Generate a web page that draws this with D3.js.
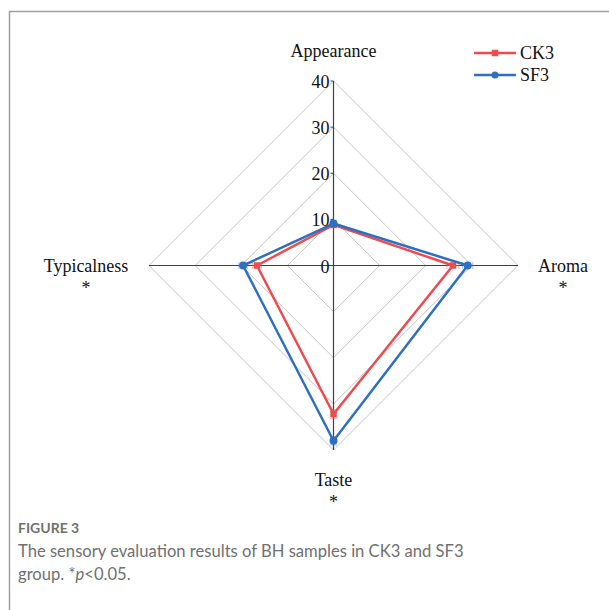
<!DOCTYPE html>
<html><head><meta charset="utf-8">
<script src="https://cdn.jsdelivr.net/npm/d3@7"></script>
<style>body{margin:0;background:#fff}svg{display:block}</style>
</head><body>
<svg id="c" width="609" height="610"></svg>
<script>
const axesNames = ["Appearance", "Aroma", "Taste", "Typicalness"];
const axisStars = ["", "*", "*", "*"];
const ticks = [0, 10, 20, 30, 40];
const seriesNames = ["CK3", "SF3"];
const ck3 = [8.8, 25.9, 32.2, 16.6];
const sf3 = [9.1, 29.1, 38.0, 19.6];
const ck3Err = [0.6, 1.3, 1.0, 1.0];
const sf3Err = [0.6, 1.1, 0.9, 0.9];
const colors = ["#ef4a4f", "#2e6fc0"];

const svg = d3.select("#c");
const cx = 333.5, cy = 265.5, R = 184.5;
const r = d3.scaleLinear().domain([0, 40]).range([0, R]);
const ang = d3.scaleBand().domain(axesNames).range([0, 2 * Math.PI]).paddingInner(0).paddingOuter(0);
const a = n => ang(n) - Math.PI / 2;
const px = (n, v) => cx + r(v) * Math.cos(a(n));
const py = (n, v) => cy + r(v) * Math.sin(a(n));
const FS = 18;

// frame
svg.append("path").attr("d", "M9.5,610 L9.5,11.5 L609,11.5").attr("fill", "none").attr("stroke", "#a0a0a0").attr("stroke-width", 1.5);

const g = svg.append("g");
// grid diamonds
ticks.slice(1).forEach(t => {
  g.append("path")
    .attr("d", d3.line()(axesNames.map(n => [px(n, t), py(n, t)])) + "Z")
    .attr("fill", "none").attr("stroke", "#c3c3c3").attr("stroke-width", 1);
});
// axes
axesNames.forEach(n => {
  g.append("line").attr("x1", cx).attr("y1", cy).attr("x2", px(n, 40)).attr("y2", py(n, 40))
    .attr("stroke", "#404040").attr("stroke-width", 1.2);
});
// tick marks + labels on vertical axis
ticks.forEach(t => {
  g.append("line").attr("x1", cx - 3).attr("x2", cx).attr("y1", cy - r(t)).attr("y2", cy - r(t))
    .attr("stroke", "#404040").attr("stroke-width", 1);
  g.append("text").attr("x", cx - 4).attr("y", cy - r(t) + 7).attr("text-anchor", "end")
    .attr("font-family", "Liberation Serif").attr("font-size", FS).attr("fill", "#111").text(t);
});

// series
const data = [ck3, sf3], errs = [ck3Err, sf3Err];
data.forEach((vals, i) => {
  const pts = axesNames.map((n, j) => [px(n, vals[j]), py(n, vals[j])]);
  // error bars
  axesNames.forEach((n, j) => {
    const v = vals[j], e = errs[i][j];
    const x1 = px(n, v - e), y1 = py(n, v - e), x2 = px(n, v + e), y2 = py(n, v + e);
    const perpX = -Math.sin(a(n)) * 3.5, perpY = Math.cos(a(n)) * 3.5;
    const eg = g.append("g").attr("stroke", colors[i]).attr("stroke-opacity", 0.45).attr("stroke-width", 1);
    eg.append("line").attr("x1", x1).attr("y1", y1).attr("x2", x2).attr("y2", y2);
    [[x1, y1], [x2, y2]].forEach(([x, y]) => eg.append("line")
      .attr("x1", x - perpX).attr("y1", y - perpY).attr("x2", x + perpX).attr("y2", y + perpY));
  });
  g.append("path").attr("d", d3.line()(pts) + "Z").attr("fill", "none")
    .attr("stroke", colors[i]).attr("stroke-width", 2.5).attr("stroke-linejoin", "round");
  const sym = i === 0 ? d3.symbolSquare : d3.symbolCircle;
  pts.forEach(p => g.append("path").attr("d", d3.symbol().type(sym).size(i === 0 ? 42 : 50)())
    .attr("transform", `translate(${p[0]},${p[1]})`).attr("fill", colors[i]));
});

// axis labels
const lab = [
  {x: cx, y: 57},
  {x: 563, y: 272},
  {x: cx, y: 486},
  {x: 86, y: 272}
];
axesNames.forEach((n, j) => {
  g.append("text").attr("x", lab[j].x).attr("y", lab[j].y).attr("text-anchor", "middle")
    .attr("font-family", "Liberation Serif").attr("font-size", FS).attr("fill", "#111").text(n);
  if (axisStars[j]) g.append("text").attr("x", lab[j].x).attr("y", lab[j].y + 22).attr("text-anchor", "middle")
    .attr("font-family", "Liberation Serif").attr("font-size", FS).attr("fill", "#111").text(axisStars[j]);
});

// legend
seriesNames.forEach((s, i) => {
  const y = 53 + i * 22;
  g.append("line").attr("x1", 474).attr("x2", 516).attr("y1", y).attr("y2", y)
    .attr("stroke", colors[i]).attr("stroke-width", 2.5);
  g.append("path").attr("d", d3.symbol().type(i === 0 ? d3.symbolSquare : d3.symbolCircle).size(i === 0 ? 42 : 40)())
    .attr("transform", `translate(495,${y})`).attr("fill", colors[i]);
  g.append("text").attr("x", 520).attr("y", y + 6).attr("font-family", "Liberation Serif")
    .attr("font-size", FS).attr("fill", "#111").text(s);
});

// caption
svg.append("text").attr("x", 18).attr("y", 533).attr("font-family", "Lato").attr("font-size", 14)
  .attr("font-weight", 700).attr("fill", "#707070").text("FIGURE 3");
svg.append("text").attr("x", 18).attr("y", 557).attr("font-family", "Lato").attr("font-size", 16.6)
  .attr("fill", "#707070").text("The sensory evaluation results of BH samples in CK3 and SF3");
const t2 = svg.append("text").attr("x", 18).attr("y", 580).attr("font-family", "Lato").attr("font-size", 16.6)
  .attr("fill", "#707070");
t2.append("tspan").text("group. *");
t2.append("tspan").attr("font-style", "italic").text("p");
t2.append("tspan").text("<0.05.");
</script>
</body></html>
